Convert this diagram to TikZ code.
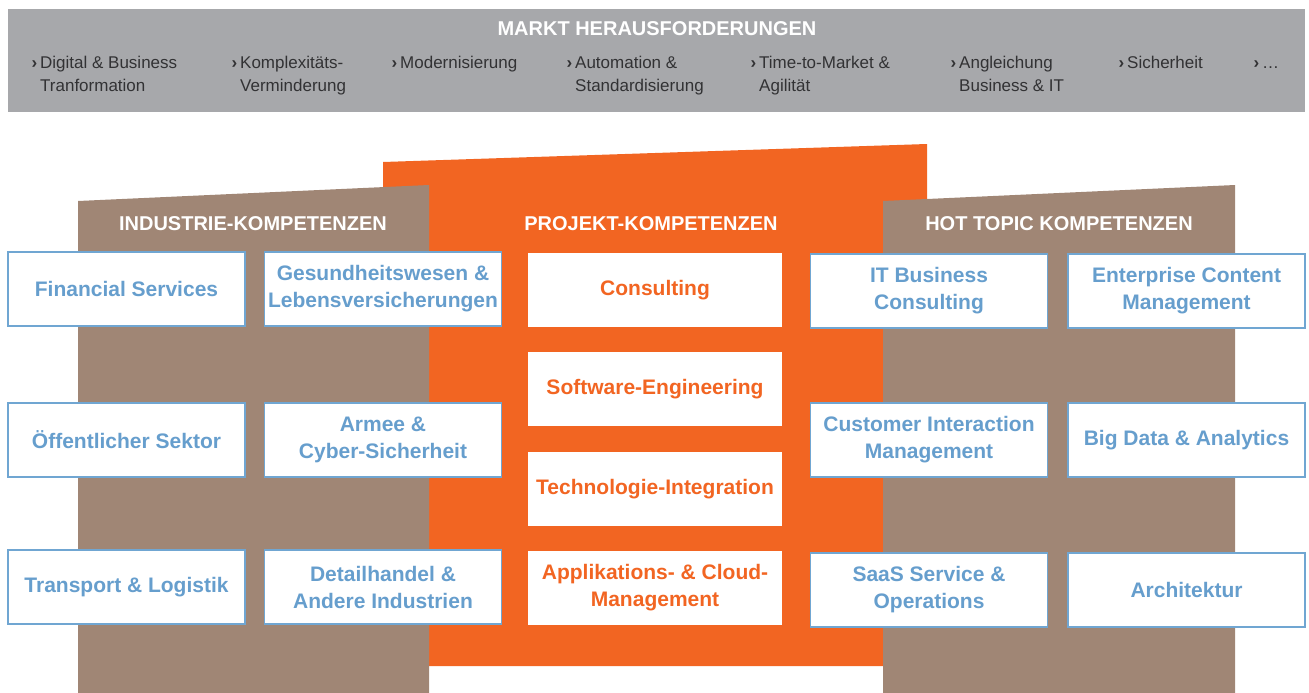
\documentclass[tikz,border=0pt]{standalone}
\usepackage{fontspec}
\setmainfont{Liberation Sans}

\definecolor{markgray}{RGB}{167,168,171}
\definecolor{bartext}{RGB}{50,50,52}
\definecolor{panelbrown}{RGB}{160,134,117}
\definecolor{panelorange}{RGB}{242,101,34}
\definecolor{boxblue}{RGB}{102,158,205}
\definecolor{lineblue}{RGB}{112,166,210}

\tikzset{
    kompbox/.style={draw=lineblue, line width=1.5pt, fill=white, inner sep=0pt,
        minimum width=237pt, minimum height=74pt, align=center, text=boxblue,
        font=\fontsize{21}{27}\selectfont\bfseries},
    projbox/.style={fill=white, inner sep=0pt, minimum width=254pt, minimum height=74pt,
        align=center, text=panelorange, font=\fontsize{21}{27}\selectfont\bfseries},
    heading/.style={text=white, font=\fontsize{20}{24}\selectfont\bfseries},
    challenge/.style={anchor=base west, align=left, inner sep=0pt, text=bartext,
        font=\fontsize{17}{24}\selectfont}
}

\begin{document}
\begin{tikzpicture}[x=1pt, y=-1pt]
    \useasboundingbox (0,0) rectangle (1309,693);

    % markt bar
    \fill[markgray] (8,9) rectangle (1305,112);
    \node[heading] (markt) at (657,29) {MARKT HERAUSFORDERUNGEN};
    \foreach \txt/\x/\y [count=\i] in {{Digital \& Business\\Tranformation}/40/92,
            {Komplexitäts-\\Verminderung}/240/92, {Modernisierung}/400/68,
            {Automation \&\\Standardisierung}/575/92, {Time-to-Market \&\\Agilität}/759/92,
            {Angleichung\\Business \& IT}/959/92, {Sicherheit}/1127/68, {\ldots}/1262/68}
    {
        \node[challenge] (ch\i) at (\x,\y) {\llap{\textbf{›}\hspace{3pt}}\txt};
    }

    % panels
    \fill[panelorange] (383,162) -- (927,144) -- (927,666) -- (383,666) -- cycle;
    \fill[panelbrown] (78,201) -- (429,185) -- (429,693) -- (78,693) -- cycle;
    \fill[panelbrown] (883,201) -- (1235,185) -- (1235,693) -- (883,693) -- cycle;

    \node[heading] (industrie) at (253,224) {INDUSTRIE-KOMPETENZEN};
    \node[heading] (projekt) at (651,224) {PROJEKT-KOMPETENZEN};
    \node[heading] (hottopic) at (1059,224) {HOT TOPIC KOMPETENZEN};

    % industrie
    \foreach \txt/\y [count=\i] in {{Financial Services}/289, {Öffentlicher Sektor}/440,
            {Transport \& Logistik}/587}
        \node[kompbox] (indA\i) at (126.5,\y) {\txt};
    \foreach \txt/\y [count=\i] in {{Gesundheitswesen \&\\Lebensversicherungen}/289,
            {Armee \&\\Cyber-Sicherheit}/440, {Detailhandel \&\\Andere Industrien}/587}
        \node[kompbox] (indB\i) at (383,\y) {\txt};

    % projekt
    \foreach \txt/\y [count=\i] in {{Consulting}/290, {Software-Engineering}/389,
            {Technologie-Integration}/489, {Applikations- \& Cloud-\\Management}/588}
        \node[projbox] (proj\i) at (655,\y) {\txt};

    % hot topics
    \foreach \txt/\y [count=\i] in {{IT Business\\Consulting}/291,
            {Customer Interaction\\Management}/440, {SaaS Service \&\\Operations}/590}
        \node[kompbox] (hotA\i) at (929,\y) {\txt};
    \foreach \txt/\y [count=\i] in {{Enterprise Content\\Management}/291,
            {Big Data \& Analytics}/440, {Architektur}/590}
        \node[kompbox] (hotB\i) at (1186.5,\y) {\txt};
\end{tikzpicture}
\end{document}
